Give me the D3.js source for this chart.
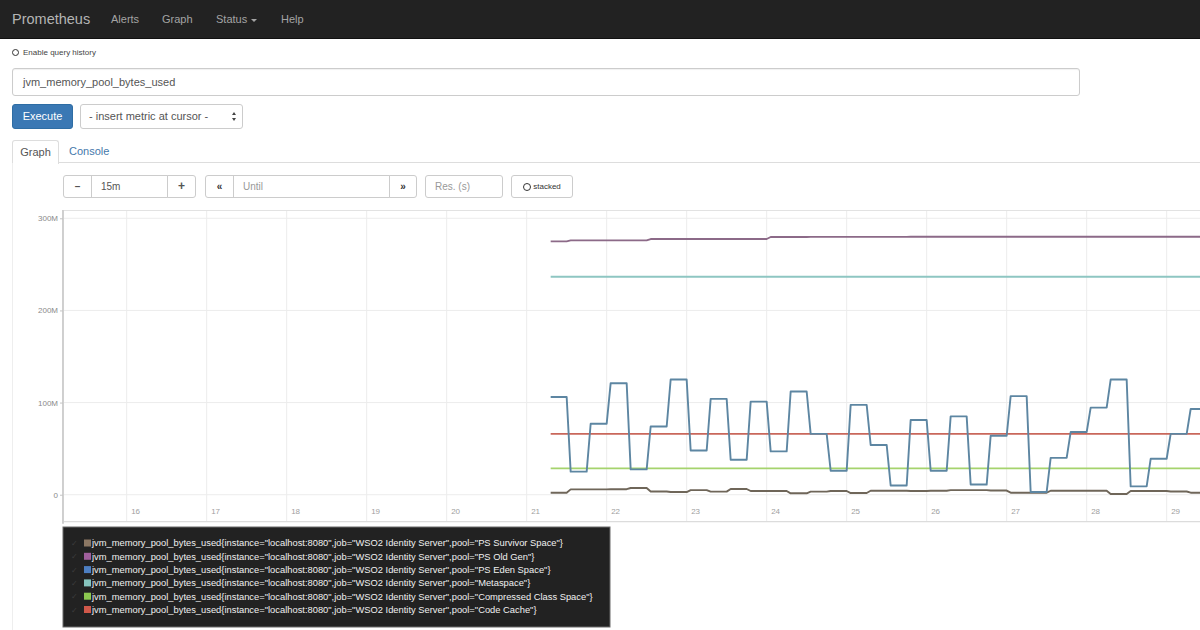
<!DOCTYPE html>
<html>
<head>
<meta charset="utf-8">
<script src="https://cdn.jsdelivr.net/npm/d3@7"></script>
<style>
html,body{margin:0;padding:0;width:1200px;height:630px;overflow:hidden;background:#fff;
  font-family:"Liberation Sans",Arial,Helvetica,sans-serif;}
.abs{position:absolute;box-sizing:border-box;}
.nav{left:0;top:0;width:1200px;height:39px;background:#222;border-bottom:1px solid #111;}
.nav span{position:absolute;top:0;line-height:38px;color:#a4a4a4;font-size:11px;}
.nav .brand{font-size:14.5px;color:#b4b4b4;}
.caret{display:inline-block;width:0;height:0;border-left:3px solid transparent;border-right:3px solid transparent;border-top:3px solid #a4a4a4;vertical-align:middle;margin-left:4px;}
.radio{width:7px;height:7px;border:1.5px solid #333;border-radius:50%;}
.small{font-size:8px;color:#444;}
.ta{left:12px;top:68px;width:1068px;height:28px;border:1px solid #ccc;border-radius:3px;box-shadow:inset 0 1px 1px rgba(0,0,0,.06);
  font-size:11px;color:#555;padding:7px 0 0 10px;}
.btn{border:1px solid #ccc;border-radius:3px;background:#fff;font-size:11px;color:#555;text-align:center;}
.exec{left:12px;top:104px;width:61px;height:25px;background:#3a78b4;border:1px solid #2e6da4;color:#fff;line-height:23px;}
.sel{left:80px;top:104px;width:163px;height:25px;line-height:23px;text-align:left;padding-left:8px;color:#555;}
.tabline{left:59px;top:162px;width:1141px;height:1px;background:#ddd;}
.tab{left:12px;top:140px;width:47px;height:24px;border:1px solid #ddd;border-bottom:none;border-radius:3px 3px 0 0;background:#fff;
  font-size:11px;color:#555;line-height:22px;text-align:center;}
.tab2{left:69px;top:140px;font-size:11px;color:#4679ab;line-height:22px;}
.pane{left:12px;top:163px;width:1px;height:467px;background:#eee;}
.ctl{top:175px;height:23px;border:1px solid #ccc;font-size:10px;color:#555;line-height:21px;}
.ph{color:#999;text-align:left;padding-left:9px;}
.arr{position:absolute;right:6px;width:0;height:0;border-left:2.5px solid transparent;border-right:2.5px solid transparent;}
</style>
</head>
<body>
<div class="abs nav">
  <span class="brand" style="left:12px">Prometheus</span>
  <span style="left:111px">Alerts</span>
  <span style="left:162px">Graph</span>
  <span style="left:216px">Status<i class="caret"></i></span>
  <span style="left:281px">Help</span>
</div>
<div class="abs radio" style="left:12px;top:49px"></div>
<div class="abs small" style="left:23px;top:48px">Enable query history</div>
<div class="abs ta">jvm_memory_pool_bytes_used</div>
<div class="abs btn exec">Execute</div>
<div class="abs btn sel">- insert metric at cursor -
  <i class="arr" style="top:7px;border-bottom:3.5px solid #444"></i>
  <i class="arr" style="top:13px;border-top:3.5px solid #444"></i>
</div>
<div class="abs tabline"></div>
<div class="abs tab">Graph</div>
<div class="abs tab2">Console</div>
<div class="abs pane"></div>

<div class="abs btn ctl" style="left:63px;width:29px;font-weight:bold;border-radius:3px 0 0 3px">&#8211;</div>
<div class="abs btn ctl ph" style="left:91px;width:77px;border-radius:0;color:#555">15m</div>
<div class="abs btn ctl" style="left:167px;width:29px;font-weight:bold;border-radius:0 3px 3px 0;font-size:12px">+</div>
<div class="abs btn ctl" style="left:205px;width:29px;border-radius:3px 0 0 3px;font-size:10px;font-weight:bold;color:#333">&#171;</div>
<div class="abs btn ctl ph" style="left:233px;width:157px;border-radius:0">Until</div>
<div class="abs btn ctl" style="left:389px;width:28px;border-radius:0 3px 3px 0;font-size:10px;font-weight:bold;color:#333">&#187;</div>
<div class="abs btn ctl ph" style="left:425px;width:78px">Res. (s)</div>
<div class="abs btn ctl" style="left:511px;width:62px;font-size:8px;color:#333">
  <span style="display:inline-block;width:6px;height:6px;border:1.3px solid #333;border-radius:50%;vertical-align:-2px;margin-right:2px"></span>stacked</div>

<svg id="chart" class="abs" style="left:0;top:0" width="1200" height="630"></svg>

<script>
// ---------- data ----------
const minuteTicks = [16, 17, 18, 19, 20, 21, 22, 23, 24, 25, 26, 27, 28, 29];
const yTickValues = [0, 100e6, 200e6, 300e6];
const rangeEnd = "30:13";        // mm:ss of the window end (15m range)
const rangeMinutes = 15;
const yMinM = -29.3, yMaxM = 309; // axis extent, millions of bytes
const resolutionSec = 3;          // query resolution step

// scrape sample times (mm:ss), every 15 s
const sampleTimes = ["21:18","21:33","21:48","22:03","22:18","22:33","22:48","23:03","23:18","23:33",
  "23:48","24:03","24:18","24:33","24:48","25:03","25:18","25:33","25:48","26:03","26:18","26:33",
  "26:48","27:03","27:18","27:33","27:48","28:03","28:18","28:33","28:48","29:03","29:18"];

// values in millions of bytes, one per sample time
const survivorSpace = [2.2,5.8,5.8,6.0,7.3,3.5,2.9,5.0,3.3,6.2,4.0,4.0,1.5,3.3,4.0,1.8,4.3,4.3,4.0,4.3,
  5.0,5.0,4.5,2.2,2.2,4.3,4.3,4.3,0.8,4.0,4.0,3.5,2.2];
const oldGen = [275,276,276,276,276,277.5,277.5,277.5,277.5,277.5,277.5,279.7,279.7,279.8,279.8,279.8,
  279.8,279.8,279.9,279.9,279.9,279.9,279.9,280,280,280,280,280,280,280,280,280,280];
const edenSpace = [106,25,77,121,27.5,74,125,48,104,38,101,47,112,66,26,97.5,54,10,81,26,85,11,64,107,
  3,40,68,94.5,125,9,39,66,93];
const metaspace = [236.5,236.5,236.5,236.5,236.5,236.5,236.5,236.5,236.5,236.5,236.5,236.5,236.5,236.5,
  236.5,236.5,236.5,236.5,236.5,236.5,236.5,236.5,236.5,236.5,236.5,236.5,236.5,236.5,236.5,236.5,236.5,236.5,236.5];
const compressedClass = [28.6,28.6,28.6,28.6,28.6,28.6,28.6,28.6,28.6,28.6,28.6,28.6,28.6,28.6,28.6,28.6,
  28.6,28.6,28.6,28.6,28.6,28.6,28.6,28.6,28.6,28.6,28.6,28.6,28.6,28.6,28.6,28.6,28.6];
const codeCache = [66,66,66,66,66,66,66,66,66,66,66,66,66,66,66,66,66,66,66,66,66,66,66,66,66,66,66,66,
  66,66,66,66,66];

const poolNames = ["PS Survivor Space","PS Old Gen","PS Eden Space","Metaspace","Compressed Class Space","Code Cache"];
const poolValues = [survivorSpace, oldGen, edenSpace, metaspace, compressedClass, codeCache];
const metricName = "jvm_memory_pool_bytes_used";
const instance = "localhost:8080";
const job = "WSO2 Identity Server";

// ---------- style ----------
const lineColors  = ["#6f6659","#8c6a88","#5d86a2","#8ec6c2","#a5d36d","#c9675b"];
const swatchColors= ["#8b7763","#a05f9c","#4d7fc2","#86c4bd","#8cc850","#d0584a"];
const drawOrder = [3,1,5,4,0,2]; // eden on top

// ---------- helpers ----------
const toMin = s => { const [m, sec] = s.split(":").map(Number); return m + sec / 60; };
const endMin = toMin(rangeEnd);

const plot = {left: 64, top: 210, bottom: 521.7, right: 64 + 1200};
const x = d3.scaleLinear().domain([endMin - rangeMinutes, endMin]).range([plot.left, plot.right]);
const y = d3.scaleLinear().domain([yMinM * 1e6, yMaxM * 1e6]).range([plot.bottom, plot.top]);

const svg = d3.select("#chart");
svg.append("defs").append("clipPath").attr("id","clip")
  .append("rect").attr("x", plot.left).attr("y", plot.top).attr("width", 1200 - plot.left).attr("height", plot.bottom - plot.top);

// grid
const g = svg.append("g");
g.append("g").selectAll("line").data(yTickValues).join("line")
  .attr("x1", plot.left).attr("x2", 1200).attr("y1", d => y(d)).attr("y2", d => y(d))
  .attr("stroke", "#ececec").attr("stroke-width", 1);
g.append("g").selectAll("line").data(minuteTicks).join("line")
  .attr("x1", d => x(d)).attr("x2", d => x(d)).attr("y1", plot.top).attr("y2", plot.bottom)
  .attr("stroke", "#ececec").attr("stroke-width", 1);
g.append("line").attr("x1", plot.left).attr("x2", 1200).attr("y1", plot.top + 0.5).attr("y2", plot.top + 0.5)
  .attr("stroke", "#e2e2e2");
g.append("line").attr("x1", plot.left).attr("x2", 1200).attr("y1", plot.bottom).attr("y2", plot.bottom)
  .attr("stroke", "#dcdcdc").attr("stroke-width", 1.2);

// y axis
const yAxis = d3.axisLeft(y).tickValues(yTickValues).tickSize(3).tickPadding(2)
  .tickFormat(d => d === 0 ? "0" : d3.format("~s")(d));
const ya = svg.append("g").attr("transform", `translate(${plot.left - 1},0)`).call(yAxis);
ya.select(".domain").attr("stroke", "#c4c4c4").attr("stroke-width", 1.6).attr("d", `M0,${plot.top}V${plot.bottom + 2}`);
ya.selectAll(".tick line").attr("stroke", "#c4c4c4");
ya.selectAll("text").attr("fill", "#8a8a8a").style("font-size", "8px").style("font-family", "Liberation Sans, Arial, sans-serif");

// x axis labels (inside plot, to the right of each gridline)
const xAxis = d3.axisBottom(x).tickValues(minuteTicks).tickSize(0).tickFormat(d => String(d));
const xa = svg.append("g").attr("transform", `translate(0,${plot.bottom - 16})`).call(xAxis);
xa.select(".domain").remove();
xa.selectAll("text").attr("text-anchor", "start").attr("dx", 4)
  .attr("fill", "#a0a0a0").style("font-size", "8px").style("font-family", "Liberation Sans, Arial, sans-serif");

// series
const times = sampleTimes.map(toMin);
const stepMin = resolutionSec / 60;
function seriesPoints(vals) {
  const pts = [];
  vals.forEach((v, k) => {
    const t = times[k];
    const next = k < vals.length - 1 ? times[k + 1] : t + 15 / 60;
    pts.push([t, v * 1e6]);
    pts.push([next - stepMin, v * 1e6]);
  });
  return pts;
}
const line = d3.line().x(d => x(d[0])).y(d => y(d[1]));
const lines = svg.append("g").attr("clip-path", "url(#clip)");
drawOrder.forEach(i => {
  lines.append("path").attr("d", line(seriesPoints(poolValues[i])))
    .attr("fill", "none").attr("stroke", lineColors[i]).attr("stroke-width", 1.9)
    .attr("stroke-linejoin", "round");
});

// legend
const lg = svg.append("g");
const lgX = 63, lgY = 527, lgW = 547, lgH = 100, rowH = 13.3;
lg.append("rect").attr("x", lgX).attr("y", lgY).attr("width", lgW).attr("height", lgH)
  .attr("fill", "#222").attr("stroke", "#6a6a6a").attr("stroke-width", 1);
const rows = lg.selectAll("g.row").data(poolNames).join("g").attr("class","row")
  .attr("transform", (d, i) => `translate(${lgX}, ${lgY + 16 + i * rowH})`);
rows.append("text").attr("x", 8).attr("y", 3).text("\u2713").attr("fill", "#3d3d3d").style("font-size", "8px");
rows.append("rect").attr("x", 21).attr("y", -3.5).attr("width", 7).attr("height", 7)
  .attr("fill", (d, i) => swatchColors[i]);
rows.append("text").attr("x", 29).attr("y", 3.3)
  .text(d => `${metricName}{instance="${instance}",job="${job}",pool="${d}"}`)
  .attr("fill", "#f0f0f0").style("font-size", "9.35px").style("font-family", "Liberation Sans, Arial, sans-serif");
</script>
</body>
</html>
